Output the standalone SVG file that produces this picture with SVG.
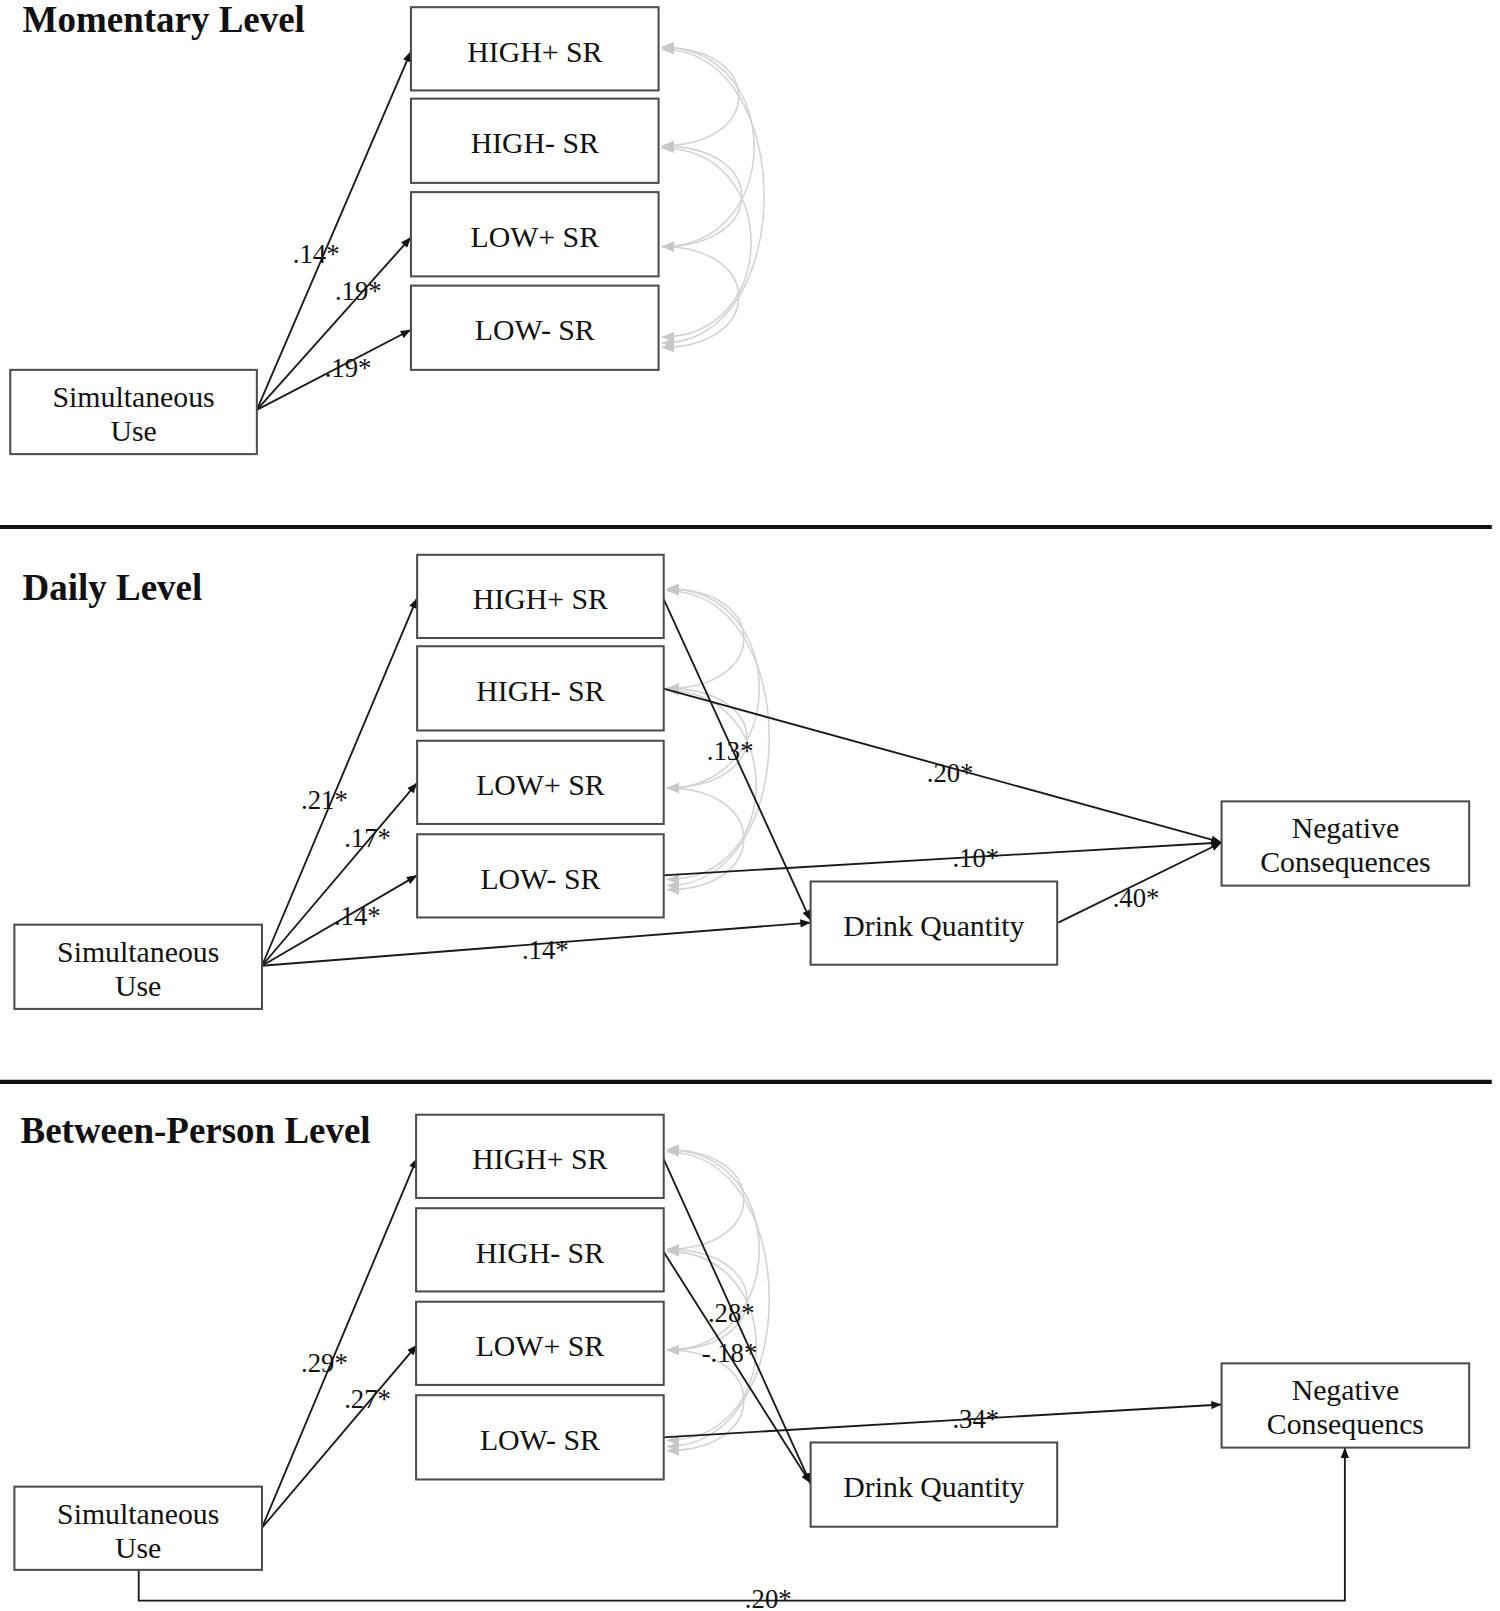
<svg xmlns="http://www.w3.org/2000/svg" width="1500" height="1611" viewBox="0 0 1500 1611">
<style>
.box{fill:#fff;stroke:#4d4d4d;stroke-width:2}
.t{font-family:"Liberation Serif","Times New Roman",serif;font-size:29px;fill:#111;text-anchor:middle}
.lab{font-family:"Liberation Serif","Times New Roman",serif;font-size:26px;fill:#111}
.ttl{font-family:"Liberation Serif","Times New Roman",serif;font-size:36px;font-weight:bold;fill:#111}
.p{fill:none;stroke:#1a1a1a;stroke-width:1.8;marker-end:url(#ah)}
.c{fill:none;stroke:#d2d2d2;stroke-width:1.5;marker-start:url(#gh);marker-end:url(#gh)}
.sep{stroke:#111;stroke-width:4}
</style>
<defs>
<marker id="ah" viewBox="0 0 10 8" refX="10" refY="4" markerWidth="11" markerHeight="8" markerUnits="userSpaceOnUse" orient="auto"><path d="M0,0 L10,4 L0,8 z" fill="#111"/></marker>
<marker id="gh" viewBox="0 0 12 10" refX="12" refY="5" markerWidth="12" markerHeight="10" markerUnits="userSpaceOnUse" orient="auto-start-reverse"><path d="M0,0 L12,5 L0,10 z" fill="#c8c8c8"/></marker>
</defs>
<g transform="scale(1.0274)">
<g id="titles">
<text class="ttl" x="22" y="31">Momentary Level</text>
<text class="ttl" x="22" y="584">Daily Level</text>
<text class="ttl" x="20" y="1113">Between-Person Level</text>
</g>
<g id="separators">
<line class="sep" x1="0" y1="513" x2="1452" y2="513"/>
<line class="sep" x1="0" y1="1053" x2="1452" y2="1053"/>
</g>
<g id="connectors">
<path class="c" d="M644,46 C744,46 744,142 644,142"/>
<path class="c" d="M644,46 C764,46 764,240 644,240"/>
<path class="c" d="M644,48 C777,48 777,334 644,334"/>
<path class="c" d="M644,142 C748,142 748,240 644,240"/>
<path class="c" d="M644,144 C760,144 760,328 644,328"/>
<path class="c" d="M644,240 C744,240 744,338 644,338"/>
<path class="c" d="M649,573 C749,573 749,670 649,670"/>
<path class="c" d="M649,573 C769,573 769,767 649,767"/>
<path class="c" d="M649,575 C782,575 782,862 649,862"/>
<path class="c" d="M649,670 C753,670 753,767 649,767"/>
<path class="c" d="M649,672 C765,672 765,856 649,856"/>
<path class="c" d="M649,767 C749,767 749,866 649,866"/>
<path class="c" d="M649,1119 C749,1119 749,1216 649,1216"/>
<path class="c" d="M649,1119 C769,1119 769,1314 649,1314"/>
<path class="c" d="M649,1121 C782,1121 782,1408 649,1408"/>
<path class="c" d="M649,1216 C753,1216 753,1314 649,1314"/>
<path class="c" d="M649,1218 C765,1218 765,1402 649,1402"/>
<path class="c" d="M649,1314 C749,1314 749,1412 649,1412"/>
<path class="p" d="M250,399 L400,50"/>
<path class="p" d="M250,399 L400,231"/>
<path class="p" d="M250,399 L400,321"/>
<path class="p" d="M255,940 L406,582"/>
<path class="p" d="M255,940 L406,762"/>
<path class="p" d="M255,940 L406,852"/>
<path class="p" d="M255,940 L789,898"/>
<path class="p" d="M645,581 L789,896"/>
<path class="p" d="M645,670 L1189,820"/>
<path class="p" d="M645,852 L1189,820"/>
<path class="p" d="M1030,898 L1189,820"/>
<path class="p" d="M255,1487 L406,1127"/>
<path class="p" d="M255,1487 L406,1309"/>
<path class="p" d="M645,1126 L789,1444"/>
<path class="p" d="M645,1217 L789,1444"/>
<path class="p" d="M645,1399 L1189,1367"/>
<path class="p" d="M135,1528 L135,1558 L1309,1558 L1309,1409"/>
</g>
<g id="labels">
<text class="lab" x="285" y="256">.14*</text>
<text class="lab" x="326" y="292">.19*</text>
<text class="lab" x="316" y="367">.19*</text>
<text class="lab" x="293" y="787">.21*</text>
<text class="lab" x="335" y="824">.17*</text>
<text class="lab" x="325" y="900">.14*</text>
<text class="lab" x="508" y="933">.14*</text>
<text class="lab" x="688" y="740">.13*</text>
<text class="lab" x="902" y="761">.20*</text>
<text class="lab" x="927" y="844">.10*</text>
<text class="lab" x="1083" y="883">.40*</text>
<text class="lab" x="293" y="1335">.29*</text>
<text class="lab" x="335" y="1370">.27*</text>
<text class="lab" x="689" y="1287">.28*</text>
<text class="lab" x="683" y="1326">-.18*</text>
<text class="lab" x="927" y="1390">.34*</text>
<text class="lab" x="725" y="1565">.20*</text>
</g>
<g id="m_hp"><rect class="box" x="400" y="7" width="241" height="81"/><text class="t" x="520.5" y="60">HIGH+ SR</text></g>
<g id="m_hm"><rect class="box" x="400" y="96" width="241" height="82"/><text class="t" x="520.5" y="149">HIGH- SR</text></g>
<g id="m_lp"><rect class="box" x="400" y="187" width="241" height="82"/><text class="t" x="520.5" y="240">LOW+ SR</text></g>
<g id="m_lm"><rect class="box" x="400" y="278" width="241" height="82"/><text class="t" x="520.5" y="331">LOW- SR</text></g>
<g id="m_sim"><rect class="box" x="10" y="360" width="240" height="82"/><text class="t" x="130" y="396">Simultaneous</text><text class="t" x="130" y="429">Use</text></g>
<g id="d_hp"><rect class="box" x="406" y="540" width="240" height="81"/><text class="t" x="526" y="593">HIGH+ SR</text></g>
<g id="d_hm"><rect class="box" x="406" y="629" width="240" height="82"/><text class="t" x="526" y="682">HIGH- SR</text></g>
<g id="d_lp"><rect class="box" x="406" y="721" width="240" height="81"/><text class="t" x="526" y="774">LOW+ SR</text></g>
<g id="d_lm"><rect class="box" x="406" y="812" width="240" height="81"/><text class="t" x="526" y="865">LOW- SR</text></g>
<g id="d_sim"><rect class="box" x="14" y="900" width="241" height="82"/><text class="t" x="134.5" y="936">Simultaneous</text><text class="t" x="134.5" y="969">Use</text></g>
<g id="d_dq"><rect class="box" x="789" y="858" width="240" height="81"/><text class="t" x="909" y="911">Drink Quantity</text></g>
<g id="d_neg"><rect class="box" x="1189" y="780" width="241" height="82"/><text class="t" x="1309.5" y="816">Negative</text><text class="t" x="1309.5" y="849">Consequences</text></g>
<g id="b_hp"><rect class="box" x="405" y="1085" width="241" height="81"/><text class="t" x="525.5" y="1138">HIGH+ SR</text></g>
<g id="b_hm"><rect class="box" x="405" y="1176" width="241" height="81"/><text class="t" x="525.5" y="1229">HIGH- SR</text></g>
<g id="b_lp"><rect class="box" x="405" y="1267" width="241" height="81"/><text class="t" x="525.5" y="1320">LOW+ SR</text></g>
<g id="b_lm"><rect class="box" x="405" y="1358" width="241" height="82"/><text class="t" x="525.5" y="1411">LOW- SR</text></g>
<g id="b_sim"><rect class="box" x="14" y="1447" width="241" height="81"/><text class="t" x="134.5" y="1483">Simultaneous</text><text class="t" x="134.5" y="1516">Use</text></g>
<g id="b_dq"><rect class="box" x="789" y="1404" width="240" height="82"/><text class="t" x="909" y="1457">Drink Quantity</text></g>
<g id="b_neg"><rect class="box" x="1189" y="1327" width="241" height="82"/><text class="t" x="1309.5" y="1363">Negative</text><text class="t" x="1309.5" y="1396">Consequencs</text></g>
</g>
</svg>
